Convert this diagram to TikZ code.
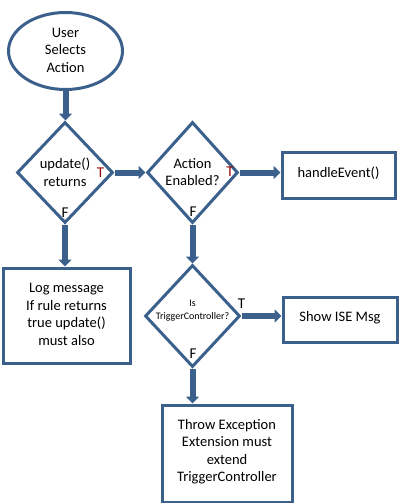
\documentclass[tikz,border=0pt]{standalone}
\usepackage{fontspec}
\setmainfont{Carlito}
\usetikzlibrary{shapes.geometric,arrows.meta}
\definecolor{flow}{RGB}{60,96,140}
\definecolor{tred}{RGB}{150,10,10}
\tikzset{
  shapeline/.style={draw=flow,line width=3pt,fill=white},
  txt/.style={font=\fontsize{14.5}{17.5}\selectfont,align=center,inner sep=0pt},
  small/.style={font=\fontsize{10}{13}\selectfont,align=center,inner sep=0pt},
  dia/.style={shapeline,diamond,inner sep=0pt},
  box/.style={shapeline,rectangle,inner sep=0pt},
  flowarrow/.style={draw=flow,line width=6pt,-{Triangle[width=13pt,length=7pt]}},
  tf/.style={font=\fontsize{15}{17}\selectfont,inner sep=0pt}
}
\begin{document}
\begin{tikzpicture}[x=1pt,y=-1pt]
\useasboundingbox (0,0) rectangle (406,503);
% shapes
\node[shapeline,ellipse,minimum width=114pt,minimum height=77pt] (start) at (65.5,51) {};
\node[txt] (starttxt) at (65.5,50) {User\\Selects\\Action};
\node[dia,minimum width=96pt,minimum height=101pt] (d1) at (65,172.5) {};
\node[txt] (d1txt) at (65,172) {update()\\returns};
\node[dia,minimum width=91pt,minimum height=101pt] (d2) at (192.5,172.5) {};
\node[txt] (d2txt) at (192.5,172) {Action\\Enabled?};
\node[dia,minimum width=95pt,minimum height=102pt] (d3) at (192.5,316) {};
\node[small] (d3txt) at (192.5,310.5) {Is\\TriggerController?};
\node[box,minimum width=113pt,minimum height=46pt] (handle) at (338.5,175) {};
\node[txt] (handletxt) at (338.5,173) {handleEvent()};
\node[box,minimum width=114pt,minimum height=45pt] (ise) at (340,319.5) {};
\node[txt] (isetxt) at (340,318) {Show ISE Msg};
\node[box,minimum width=127pt,minimum height=95pt] (log) at (66.5,315.5) {};
\node[txt] (logtxt) at (66.5,314.5) {Log message\\If rule returns\\true update()\\must also};
\node[box,minimum width=130pt,minimum height=97pt] (throw) at (227,453.5) {};
\node[txt] (throwtxt) at (227,451.5) {Throw Exception\\Extension must\\extend\\TriggerController};
% connectors
\draw[flowarrow] (start.south) -- (start.south |- d1.north);
\draw[flowarrow] (d1.east) -- (d2.west);
\draw[flowarrow] (d2.east) -- (d2.east -| handle.west);
\draw[flowarrow] (d1.south) -- (d1.south |- log.north);
\draw[flowarrow] (d2.south) -- (d3.north);
\draw[flowarrow] (d3.east) -- (d3.east -| ise.west);
\draw[flowarrow] (d3.south) -- (d3.south |- throw.north);
% T/F labels
\node[tf,text=tred] (t1) at (100.5,173) {T};
\node[tf] (f1) at (65,213) {F};
\node[tf,text=tred] (t2) at (230,172) {T};
\node[tf] (f2) at (193,212) {F};
\node[tf] (t3) at (241.5,304) {T};
\node[tf] (f3) at (193,354) {F};
\end{tikzpicture}
\end{document}
